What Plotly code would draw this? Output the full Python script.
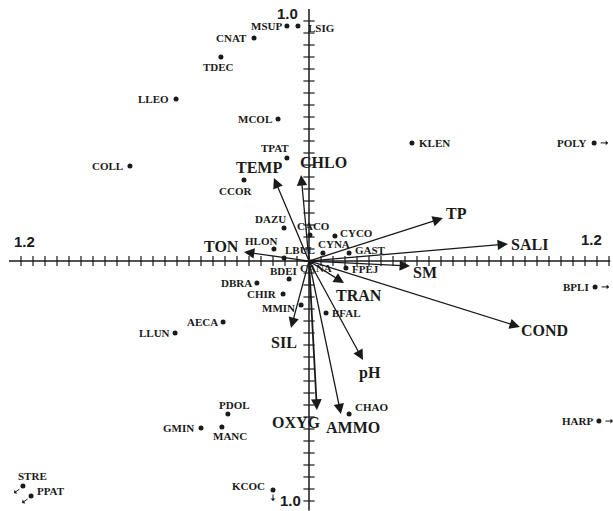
import numpy as np
import plotly.graph_objects as go

# Species scores (axis 1, axis 2)
species = ["MSUP", "LSIG", "CNAT", "TDEC", "LLEO", "MCOL", "TPAT", "COLL", "CCOR",
           "KLEN", "POLY", "DAZU", "HLON", "LBUL", "BDEI", "DBRA", "CHIR", "MMIN",
           "AECA", "LLUN", "CACO", "CYCO", "CYNA", "GAST", "CANA", "FPEJ", "BFAL",
           "CHAO", "BPLI", "HARP", "PDOL", "MANC", "GMIN", "STRE", "PPAT", "KCOC"]
sp_x = [-0.092, -0.046, -0.229, -0.367, -0.554, -0.129, -0.092, -0.746, -0.271,
        0.429, 1.188, -0.104, -0.146, -0.104, -0.083, -0.217, -0.108, -0.033,
        -0.358, -0.558, 0.004, 0.108, 0.058, 0.167, 0.008, 0.154, 0.071,
        0.167, 1.192, 1.208, -0.338, -0.363, -0.450, -1.192, -1.158, -0.150]
sp_y = [0.979, 0.979, 0.929, 0.850, 0.675, 0.592, 0.429, 0.396, 0.338,
        0.492, 0.492, 0.138, 0.050, 0.013, -0.075, -0.092, -0.138, -0.183,
        -0.254, -0.300, 0.108, 0.104, 0.033, 0.033, -0.004, -0.029, -0.217,
        -0.638, -0.108, -0.667, -0.638, -0.692, -0.696, -0.938, -0.979, -0.954]

# Environmental variable biplot scores
env = ["TEMP", "CHLO", "TP", "SALI", "SM", "COND", "TRAN", "pH", "AMMO", "OXYG", "SIL", "TON"]
env_x = [-0.146, -0.033, 0.558, 0.829, 0.421, 0.879, 0.146, 0.225, 0.133, 0.033, -0.075, -0.271]
env_y = [0.346, 0.358, 0.179, 0.071, -0.021, -0.275, -0.092, -0.413, -0.638, -0.621, -0.279, 0.038]

# Species lying beyond the plotted frame (direction of the outward arrow)
outside = {"POLY": "E", "BPLI": "E", "HARP": "E", "STRE": "SW", "PPAT": "SW", "KCOC": "S"}

# Label placement: (xanchor, x offset px, y offset px downward)
sp_label_pos = {
    "MSUP": ("right", -3, 0), "LSIG": ("left", 8, 2), "CNAT": ("right", -5, 0),
    "TDEC": ("center", -2, 10), "LLEO": ("right", -5, 0), "MCOL": ("right", -4, 0),
    "TPAT": ("center", -12, -10), "COLL": ("right", -5, 0), "CCOR": ("center", -8, 11),
    "KLEN": ("left", 5, 0), "POLY": ("right", -5, 0), "DAZU": ("center", -14, -9),
    "HLON": ("center", -13, -8), "LBUL": ("left", -1, -8), "BDEI": ("center", -6, -8),
    "DBRA": ("right", -3, 0), "CHIR": ("right", -4, 0), "MMIN": ("right", -4, 3),
    "AECA": ("right", -3, 0), "LLUN": ("right", -3, 0), "CACO": ("center", 4, -9),
    "CYCO": ("left", 3, -3), "CYNA": ("left", -7, -9), "GAST": ("left", 4, -3),
    "CANA": ("center", 5, 6), "FPEJ": ("left", 4, 1), "BFAL": ("left", 4, 0),
    "CHAO": ("left", 4, -7), "BPLI": ("right", -4, 0), "HARP": ("right", -4, 0),
    "PDOL": ("center", 7, -9), "MANC": ("center", 8, 9), "GMIN": ("right", -5, 0),
    "STRE": ("center", 10, -10), "PPAT": ("left", 4, -5), "KCOC": ("right", -6, -4),
}
env_label_pos = {
    "TEMP": (-15, -10), "CHLO": (22, -13), "TP": (14, -5), "SALI": (22, 1),
    "SM": (15, 6), "COND": (25, 3), "TRAN": (15, 12), "pH": (7, 13),
    "AMMO": (12, 13), "OXYG": (-20, 12), "SIL": (-7, 15), "TON": (-22, -5),
}
# Outward arrow geometry for off-frame species: tip shift (px, up positive), tail offset (px, down positive)
out_arrow = {"E": ((14, 0), (-9, 0)), "SW": ((-9, -7), (7, -5)), "S": ((0, -11), (0, -8))}

# Axis extents and tick spacing
x_ticks = np.round(np.arange(-1.2, 1.2501, 0.05), 3)
y_ticks = np.round(np.arange(-1.0, 1.0001, 0.05), 3)
x_line = [-1.25, 1.255]
y_line = [-1.04, 1.05]

SERIF = "Liberation Serif"
SANS = "Liberation Sans"
INK = "#1a1a1a"

fig = go.Figure()

# Axes through the origin
fig.add_trace(go.Scatter(x=x_line, y=[0, 0], mode="lines",
                         line=dict(color=INK, width=1.5), hoverinfo="skip"))
fig.add_trace(go.Scatter(x=[0, 0], y=y_line, mode="lines",
                         line=dict(color=INK, width=1.5), hoverinfo="skip"))
fig.add_trace(go.Scatter(x=x_ticks, y=np.zeros_like(x_ticks), mode="markers",
                         marker=dict(symbol="line-ns-open", size=7, color=INK,
                                     line=dict(color=INK, width=1.2)),
                         hoverinfo="skip"))
fig.add_trace(go.Scatter(x=np.zeros_like(y_ticks), y=y_ticks, mode="markers",
                         marker=dict(symbol="line-ew-open", size=8, color=INK,
                                     line=dict(color=INK, width=1.2)),
                         hoverinfo="skip"))

# Species points
fig.add_trace(go.Scatter(x=sp_x, y=sp_y, mode="markers",
                         marker=dict(color=INK, size=5), hoverinfo="text",
                         text=species))

annotations = []
for name, x, y in zip(species, sp_x, sp_y):
    anchor, dx, dy = sp_label_pos[name]
    annotations.append(dict(x=x, y=y, xref="x", yref="y", text=f"<b>{name}</b>",
                            showarrow=False, xanchor=anchor, yanchor="middle",
                            xshift=dx, yshift=-dy,
                            font=dict(family=SERIF, size=11, color=INK)))
    if name in outside:
        shift, tail = out_arrow[outside[name]]
        annotations.append(dict(x=x, y=y, xref="x", yref="y", text="",
                                showarrow=True, arrowhead=1, arrowsize=0.8,
                                arrowwidth=1, arrowcolor=INK,
                                ax=tail[0], ay=tail[1],
                                xshift=shift[0], yshift=shift[1]))

# Environmental arrows
for name, x, y in zip(env, env_x, env_y):
    thick = name == "OXYG"
    annotations.append(dict(x=x, y=y, xref="x", yref="y", ax=0, ay=0,
                            axref="x", ayref="y", text="", showarrow=True,
                            arrowhead=2, arrowsize=1.2 if thick else 1.6,
                            arrowwidth=1.8 if thick else 1.3,
                            arrowcolor=INK))
    dx, dy = env_label_pos[name]
    annotations.append(dict(x=x, y=y, xref="x", yref="y", text=f"<b>{name}</b>",
                            showarrow=False, xanchor="center", yanchor="middle",
                            xshift=dx, yshift=-dy,
                            font=dict(family=SERIF, size=16, color=INK)))

# Axis extent labels
axis_labels = [("1.2", x_line[0], 0, "left", 3, 20),
               ("1.2", x_line[1], 0, "right", -6, 22),
               ("1.0", 0, y_line[1], "right", -9, -4),
               ("1.0", 0, y_line[0], "right", -6, 10)]
for txt, x, y, anchor, dx, dy in axis_labels:
    annotations.append(dict(x=x, y=y, xref="x", yref="y", text=f"<b>{txt}</b>",
                            showarrow=False, xanchor=anchor, yanchor="middle",
                            xshift=dx, yshift=dy,
                            font=dict(family=SANS, size=15, color=INK)))

fig.update_layout(
    width=613, height=511,
    margin=dict(l=0, r=0, t=0, b=0),
    paper_bgcolor="white", plot_bgcolor="white",
    showlegend=False,
    xaxis=dict(range=[-309 / 240, 304 / 240], visible=False),
    yaxis=dict(range=[-250 / 240, 261 / 240], visible=False),
    annotations=annotations,
)

fig.write_html("out.html")
